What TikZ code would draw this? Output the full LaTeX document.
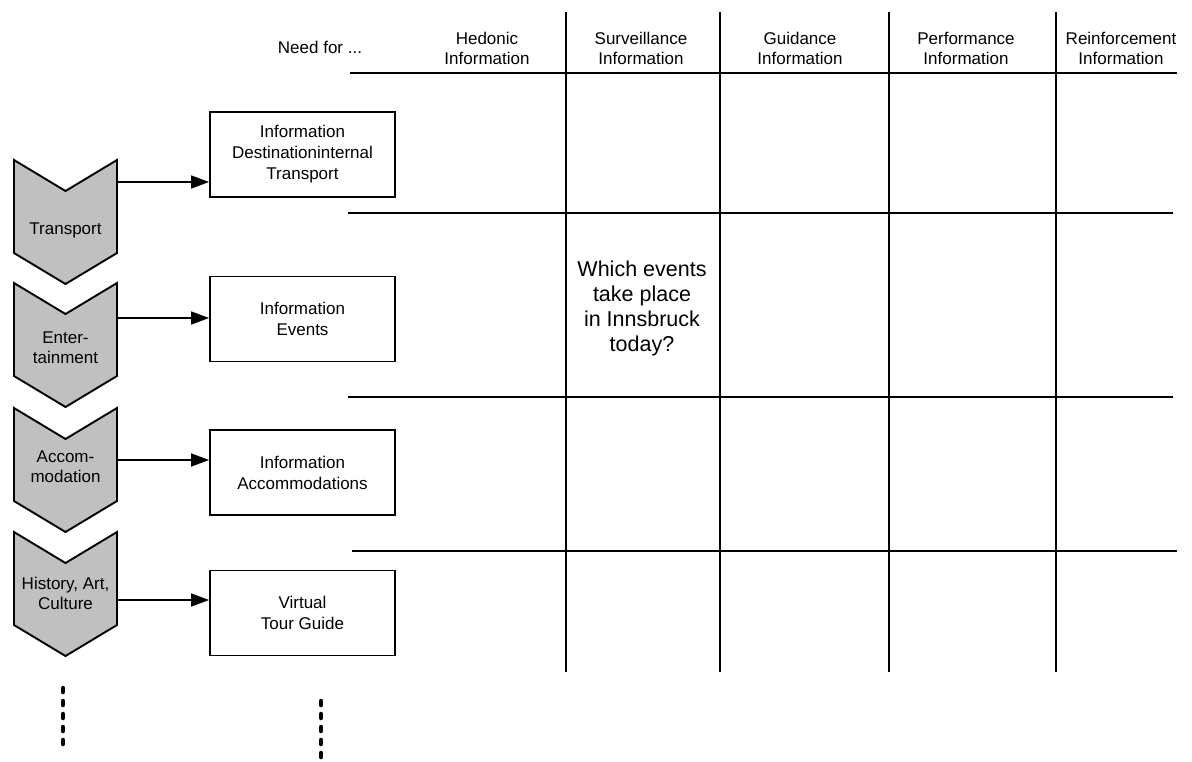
\documentclass[tikz,border=0pt]{standalone}
\usepackage{fontspec}
\setmainfont{Liberation Sans}
\usetikzlibrary{arrows.meta}
\definecolor{chevgray}{RGB}{192,192,192}
\begin{document}
\begin{tikzpicture}[x=1pt,y=-1pt,
  lbl/.style={font=\fontsize{17}{20}\selectfont, align=center, inner sep=0pt},
  bigq/.style={font=\fontsize{21.5}{25}\selectfont, align=center, inner sep=0pt},
  infobox/.style={draw, line width=1.8pt, minimum width=185pt, minimum height=85pt, align=center, inner sep=0pt, font=\fontsize{17}{21}\selectfont},
  chev/.style={draw, line width=1.9pt, fill=chevgray, line join=miter},
  conn/.style={line width=1.3pt, -{Triangle[length=18pt,width=13pt]}},
  gridline/.style={line width=1.5pt},
  dotline/.style={line width=4.5pt, line cap=round, dash pattern=on 4pt off 9pt},
  chevron/.pic={\draw[chev] (-51.5,0) -- (0,31) -- (51.5,0) -- (51.5,93) -- (0,124) -- (-51.5,93) -- cycle;}]
\useasboundingbox (0,0) rectangle (1192,761);

% grid
\draw[gridline] (350,73) -- (1177,73);
\draw[gridline] (348,213) -- (1173,213);
\draw[gridline] (348,397) -- (1173,397);
\draw[gridline] (352,551) -- (1177,551);
\foreach \x in {566,720,889,1056}
  \draw[gridline] (\x,12) -- (\x,672);

% header
\node[lbl] (need) at (320,47) {Need for ...};
\node[lbl] (h1) at (487,48) {Hedonic\\Information};
\node[lbl] (h2) at (641,48) {Surveillance\\Information};
\node[lbl] (h3) at (800,48) {Guidance\\Information};
\node[lbl] (h4) at (966,48) {Performance\\Information};
\node[lbl] (h5) at (1121,48) {Reinforcement\\Information};

% question
\node[bigq] (q) at (642,308) {Which events\\take place\\in Innsbruck\\today?};

% chevrons
\pic at (65.5,160) {chevron};
\pic at (65.5,283) {chevron};
\pic at (65.5,408) {chevron};
\pic at (65.5,532) {chevron};
\node[lbl] (c1) at (65.5,230) {Transport};
\node[lbl] (c2) at (65.5,347.5) {Enter-\\tainment};
\node[lbl] (c3) at (65.5,466.5) {Accom-\\modation};
\node[lbl] (c4) at (65.5,593) {History, Art,\\Culture};

% boxes
\node[infobox] (b1) at (302.5,154.5) {Information\\Destinationinternal\\Transport};
\node[infobox] (b2) at (302.5,319) {Information\\Events};
\node[infobox] (b3) at (302.5,472.5) {Information\\Accommodations};
\node[infobox] (b4) at (302.5,613) {Virtual\\Tour Guide};

% connectors
\coordinate (a1) at (117,182);
\coordinate (a2) at (117,318);
\coordinate (a3) at (117,460);
\coordinate (a4) at (117,600);
\draw[conn] (a1) -- (a1 -| b1.west);
\draw[conn] (a2) -- (a2 -| b2.west);
\draw[conn] (a3) -- (a3 -| b3.west);
\draw[conn] (a4) -- (a4 -| b4.west);

% continuation dots
\coordinate (d1) at (63,688);
\coordinate (d2) at (63,748);
\coordinate (d3) at (321,701);
\coordinate (d4) at (321,762);
\draw[dotline] (d1) -- (d2);
\draw[dotline] (d3) -- (d4);
\end{tikzpicture}
\end{document}
